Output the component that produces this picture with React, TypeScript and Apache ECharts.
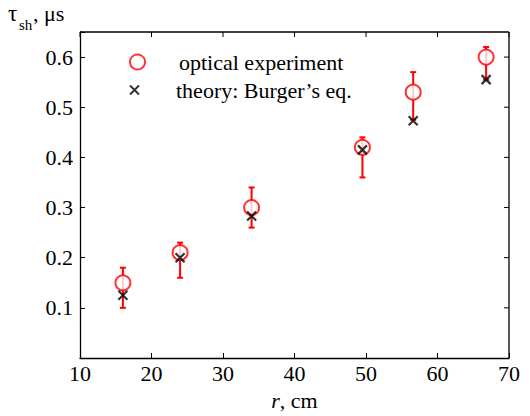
import React, { useEffect, useRef } from "react";
import * as echarts from "echarts";

const rValues = [16, 24, 34, 49.5, 56.6, 66.8];
const experiment = [0.15, 0.21, 0.3, 0.42, 0.53, 0.6];
const errLow = [0.1, 0.16, 0.26, 0.36, 0.475, 0.555];
const errHigh = [0.18, 0.23, 0.34, 0.44, 0.57, 0.62];
const theory = [0.125, 0.2, 0.283, 0.415, 0.473, 0.555];
const xTicks = [10, 20, 30, 40, 50, 60, 70];
const yTicks = [0.1, 0.2, 0.3, 0.4, 0.5, 0.6];
const xRange = [10, 70];
const yRange = [0, 0.65];
const seriesNames = ["optical experiment", "theory: Burger\u2019s eq."];

const FONT = "Liberation Serif";
const FS = 22;

export default function App() {
  const ref = useRef<HTMLDivElement>(null);
  useEffect(() => {
    if (!ref.current) return;
    const chart = echarts.init(ref.current, null, { renderer: "svg" });
    const line = () => ({ show: true, onZero: false, lineStyle: { color: "#000", width: 1.3 } });
    const tick = () => ({ show: true, inside: true, length: 5, lineStyle: { color: "#000", width: 1 } });
    const legendText = { fontFamily: FONT, fontSize: FS, color: "#000", lineHeight: 22, padding: [0, 0, 0, 29] };
    const option = {
      animation: false,
      backgroundColor: "#fff",
      grid: { left: 80, right: 21, top: 32, bottom: 57 },
      xAxis: {
        type: "value",
        min: xRange[0],
        max: xRange[1],
        interval: 10,
        position: "bottom",
        axisLine: line(),
        axisTick: tick(),
        splitLine: { show: false },
        axisLabel: {
          fontFamily: FONT,
          fontSize: FS,
          color: "#000",
          margin: 4,
          formatter: (v: number) => (xTicks.includes(v) ? String(v) : ""),
        },
        name: "{i|r}, cm",
        nameLocation: "middle",
        nameGap: 31,
        nameTextStyle: {
          fontFamily: FONT,
          fontSize: FS,
          color: "#000",
          rich: { i: { fontFamily: FONT, fontSize: FS, fontStyle: "italic", color: "#000" } },
        },
      },
      yAxis: {
        type: "value",
        min: yRange[0],
        max: yRange[1],
        interval: 0.1,
        position: "left",
        axisLine: line(),
        axisTick: tick(),
        splitLine: { show: false },
        axisLabel: {
          fontFamily: FONT,
          fontSize: FS,
          color: "#000",
          margin: 7,
          formatter: (v: number) => {
            const m = yTicks.find((t) => Math.abs(t - v) < 1e-6);
            return m !== undefined ? m.toFixed(1) : "";
          },
        },
      },
      legend: [
        {
          data: [seriesNames[0]],
          left: 124,
          top: 46,
          padding: 5,
          itemWidth: 15,
          itemHeight: 15,
          textStyle: legendText,
        },
        {
          data: [seriesNames[1]],
          left: 124,
          top: 74,
          padding: 5,
          itemWidth: 15,
          itemHeight: 9,
          textStyle: legendText,
        },
      ],
      graphic: [
        { type: "text", left: 8, top: 2, style: { text: "\u03c4", fontFamily: FONT, fontSize: 23, fill: "#000" } },
        { type: "text", left: 19, top: 17, style: { text: "sh", fontFamily: FONT, fontSize: 15, fill: "#000" } },
        { type: "text", left: 33, top: 2, style: { text: ", \u03bcs", fontFamily: FONT, fontSize: 22, fill: "#000" } },
      ],
      series: [
        {
          // plot frame (top and right edges with their inward ticks), from the axes' scales
          type: "custom",
          name: "frame",
          silent: true,
          data: [[xRange[0], yRange[0], xRange[1], yRange[1]]],
          renderItem: (params: any, api: any) => {
            const tl = api.coord([api.value(0), api.value(3)]);
            const br = api.coord([api.value(2), api.value(1)]);
            const s = { stroke: "#000", lineWidth: 1.3 };
            const ts = { stroke: "#000", lineWidth: 1 };
            const children: any[] = [
              { type: "line", shape: { x1: tl[0], y1: tl[1], x2: br[0], y2: tl[1] }, style: s },
              { type: "line", shape: { x1: br[0], y1: tl[1], x2: br[0], y2: br[1] }, style: s },
            ];
            xTicks.forEach((t) => {
              const p = api.coord([t, api.value(3)]);
              children.push({ type: "line", shape: { x1: p[0], y1: p[1], x2: p[0], y2: p[1] + 5 }, style: ts });
            });
            yTicks.forEach((t) => {
              const p = api.coord([api.value(2), t]);
              children.push({ type: "line", shape: { x1: p[0], y1: p[1], x2: p[0] - 5, y2: p[1] }, style: ts });
            });
            return { type: "group", children };
          },
        },
        {
          type: "custom",
          name: "errorbars",
          data: rValues.map((r, i) => [r, errLow[i], errHigh[i]]),
          renderItem: (params: any, api: any) => {
            const lo = api.coord([api.value(0), api.value(1)]);
            const hi = api.coord([api.value(0), api.value(2)]);
            const cap = 3;
            return {
              type: "group",
              children: [
                { type: "line", shape: { x1: lo[0], y1: lo[1], x2: hi[0], y2: hi[1] }, style: { stroke: "#ff0000", lineWidth: 2 } },
                { type: "line", shape: { x1: lo[0] - cap, y1: lo[1], x2: lo[0] + cap, y2: lo[1] }, style: { stroke: "#ff0000", lineWidth: 2 } },
                { type: "line", shape: { x1: hi[0] - cap, y1: hi[1], x2: hi[0] + cap, y2: hi[1] }, style: { stroke: "#ff0000", lineWidth: 2 } },
              ],
            };
          },
        },
        {
          type: "scatter",
          name: seriesNames[0],
          data: rValues.map((r, i) => [r, experiment[i]]),
          symbol: "emptyCircle",
          symbolSize: 15,
          itemStyle: { color: "#ff0000", borderColor: "#ff0000", borderWidth: 1.8 },
        },
        {
          type: "scatter",
          name: seriesNames[1],
          data: rValues.map((r, i) => [r, theory[i]]),
          symbol: "path://M0,0L10,10M10,0L0,10",
          symbolSize: 9,
          itemStyle: { color: "#000", borderColor: "#000", borderWidth: 2.2 },
        },
      ],
    };
    chart.setOption(option as any);
    return () => chart.dispose();
  }, []);
  return (
    <div
      ref={ref}
      style={{ position: "fixed", left: 0, top: 0, width: 530, height: 416, background: "#fff" }}
    />
  );
}
